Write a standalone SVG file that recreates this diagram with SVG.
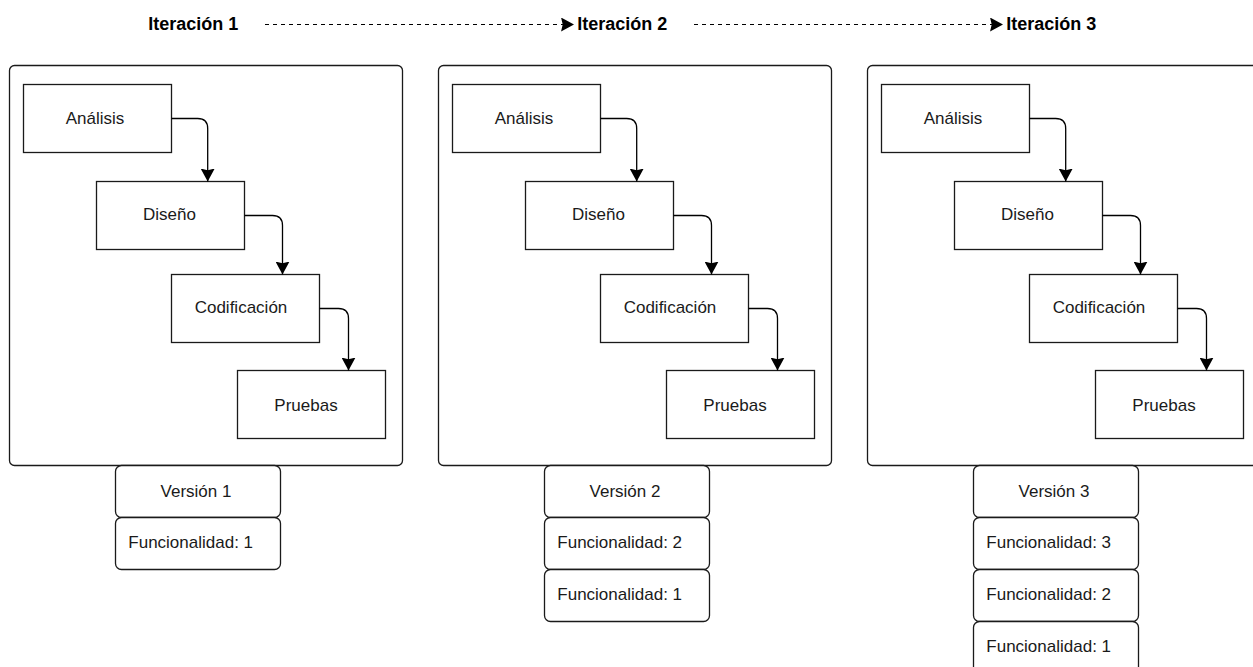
<svg xmlns="http://www.w3.org/2000/svg" width="1253" height="667" viewBox="0 0 1253 667">
  <style>
    .frame { fill: #fff; stroke: #1a1a1a; stroke-width: 1.3; }
    .step { fill: #fff; stroke: #1a1a1a; stroke-width: 1.3; }
    .ver { fill: #fff; stroke: #1a1a1a; stroke-width: 1.3; }
    .lbl { font-family: "Liberation Sans", Arial, Helvetica, sans-serif; font-size: 17px; fill: #1a1a1a; }
    .mid { text-anchor: middle; }
    .head { font-family: "Liberation Sans", Arial, Helvetica, sans-serif; font-size: 18px; font-weight: bold; fill: #000; }
    .flow { fill: none; stroke: #000; stroke-width: 1.3; }
    .dash { fill: none; stroke: #000; stroke-width: 1.2; stroke-dasharray: 4 4; }
  </style>
  <defs>
    <marker id="tip" markerUnits="userSpaceOnUse" markerWidth="14" markerHeight="14" viewBox="0 0 13 13" refX="12" refY="6.5" orient="auto">
      <path d="M0,0 L12,6.5 L0,13 L1.5,6.5 Z" fill="#000" stroke="none"/>
    </marker>
  </defs>

  <rect width="1253" height="667" fill="#fff"/>

  <!-- iteration headings -->
  <g id="heading-1"><text class="head" x="148.3" y="29.5">Iteración 1</text></g>
  <g id="heading-2"><text class="head" x="577.3" y="29.5">Iteración 2</text></g>
  <g id="heading-3"><text class="head" x="1006.3" y="29.5">Iteración 3</text></g>

  <!-- iteration 1 -->
  <g id="iter-1">
    <g id="frame-1"><rect class="frame" x="9.5" y="65.5" width="393" height="400" rx="5"/></g>
    <g id="analisis-1"><rect class="step" x="23.5" y="84.5" width="148" height="68"/><text class="lbl mid" x="95" y="123.5">Análisis</text></g>
    <g id="diseno-1"><rect class="step" x="96.5" y="181.5" width="148" height="68"/><text class="lbl mid" x="169.5" y="219.5">Diseño</text></g>
    <g id="codificacion-1"><rect class="step" x="171.5" y="274.5" width="148" height="68"/><text class="lbl mid" x="241" y="312.5">Codificación</text></g>
    <g id="pruebas-1"><rect class="step" x="237.5" y="370.5" width="148" height="68"/><text class="lbl mid" x="306" y="410.5">Pruebas</text></g>
    <g id="version-1"><rect class="ver" x="115.5" y="465.5" width="165" height="52" rx="6"/><text class="lbl mid" x="196" y="496.7">Versión 1</text></g>
    <g id="func-1-1"><rect class="ver" x="115.5" y="517.5" width="165" height="52" rx="6"/><text class="lbl" x="128.3" y="548.3">Funcionalidad: 1</text></g>
  </g>

  <!-- iteration 2 -->
  <g id="iter-2">
    <g id="frame-2"><rect class="frame" x="438.5" y="65.5" width="393" height="400" rx="5"/></g>
    <g id="analisis-2"><rect class="step" x="452.5" y="84.5" width="148" height="68"/><text class="lbl mid" x="524" y="123.5">Análisis</text></g>
    <g id="diseno-2"><rect class="step" x="525.5" y="181.5" width="148" height="68"/><text class="lbl mid" x="598.5" y="219.5">Diseño</text></g>
    <g id="codificacion-2"><rect class="step" x="600.5" y="274.5" width="148" height="68"/><text class="lbl mid" x="670" y="312.5">Codificación</text></g>
    <g id="pruebas-2"><rect class="step" x="666.5" y="370.5" width="148" height="68"/><text class="lbl mid" x="735" y="410.5">Pruebas</text></g>
    <g id="version-2"><rect class="ver" x="544.5" y="465.5" width="165" height="52" rx="6"/><text class="lbl mid" x="625" y="496.7">Versión 2</text></g>
    <g id="func-2-2"><rect class="ver" x="544.5" y="517.5" width="165" height="52" rx="6"/><text class="lbl" x="557.3" y="548.3">Funcionalidad: 2</text></g>
    <g id="func-2-1"><rect class="ver" x="544.5" y="569.5" width="165" height="52" rx="6"/><text class="lbl" x="557.3" y="600.3">Funcionalidad: 1</text></g>
  </g>

  <!-- iteration 3 -->
  <g id="iter-3">
    <g id="frame-3"><rect class="frame" x="867.5" y="65.5" width="393" height="400" rx="5"/></g>
    <g id="analisis-3"><rect class="step" x="881.5" y="84.5" width="148" height="68"/><text class="lbl mid" x="953" y="123.5">Análisis</text></g>
    <g id="diseno-3"><rect class="step" x="954.5" y="181.5" width="148" height="68"/><text class="lbl mid" x="1027.5" y="219.5">Diseño</text></g>
    <g id="codificacion-3"><rect class="step" x="1029.5" y="274.5" width="148" height="68"/><text class="lbl mid" x="1099" y="312.5">Codificación</text></g>
    <g id="pruebas-3"><rect class="step" x="1095.5" y="370.5" width="148" height="68"/><text class="lbl mid" x="1164" y="410.5">Pruebas</text></g>
    <g id="version-3"><rect class="ver" x="973.5" y="465.5" width="165" height="52" rx="6"/><text class="lbl mid" x="1054" y="496.7">Versión 3</text></g>
    <g id="func-3-3"><rect class="ver" x="973.5" y="517.5" width="165" height="52" rx="6"/><text class="lbl" x="986.3" y="548.3">Funcionalidad: 3</text></g>
    <g id="func-3-2"><rect class="ver" x="973.5" y="569.5" width="165" height="52" rx="6"/><text class="lbl" x="986.3" y="600.3">Funcionalidad: 2</text></g>
    <g id="func-3-1"><rect class="ver" x="973.5" y="621.5" width="165" height="52" rx="6"/><text class="lbl" x="986.3" y="652.3">Funcionalidad: 1</text></g>
  </g>

  <!-- connectors -->
  <g id="connectors">
    <path class="dash" d="M265,24.5 H574" marker-end="url(#tip)"/>
    <path class="dash" d="M694,24.5 H1003" marker-end="url(#tip)"/>

    <path class="flow" d="M171.5,118.5 H197.7 Q207.7,118.5 207.7,128.5 V181.5" marker-end="url(#tip)"/>
    <path class="flow" d="M244.5,215.5 H272.5 Q282.5,215.5 282.5,225.5 V274.5" marker-end="url(#tip)"/>
    <path class="flow" d="M319.5,308.5 H338.5 Q348.5,308.5 348.5,318.5 V370.5" marker-end="url(#tip)"/>

    <path class="flow" d="M600.5,118.5 H626.7 Q636.7,118.5 636.7,128.5 V181.5" marker-end="url(#tip)"/>
    <path class="flow" d="M673.5,215.5 H701.5 Q711.5,215.5 711.5,225.5 V274.5" marker-end="url(#tip)"/>
    <path class="flow" d="M748.5,308.5 H767.5 Q777.5,308.5 777.5,318.5 V370.5" marker-end="url(#tip)"/>

    <path class="flow" d="M1029.5,118.5 H1055.7 Q1065.7,118.5 1065.7,128.5 V181.5" marker-end="url(#tip)"/>
    <path class="flow" d="M1102.5,215.5 H1130.5 Q1140.5,215.5 1140.5,225.5 V274.5" marker-end="url(#tip)"/>
    <path class="flow" d="M1177.5,308.5 H1196.5 Q1206.5,308.5 1206.5,318.5 V370.5" marker-end="url(#tip)"/>
  </g>
</svg>
